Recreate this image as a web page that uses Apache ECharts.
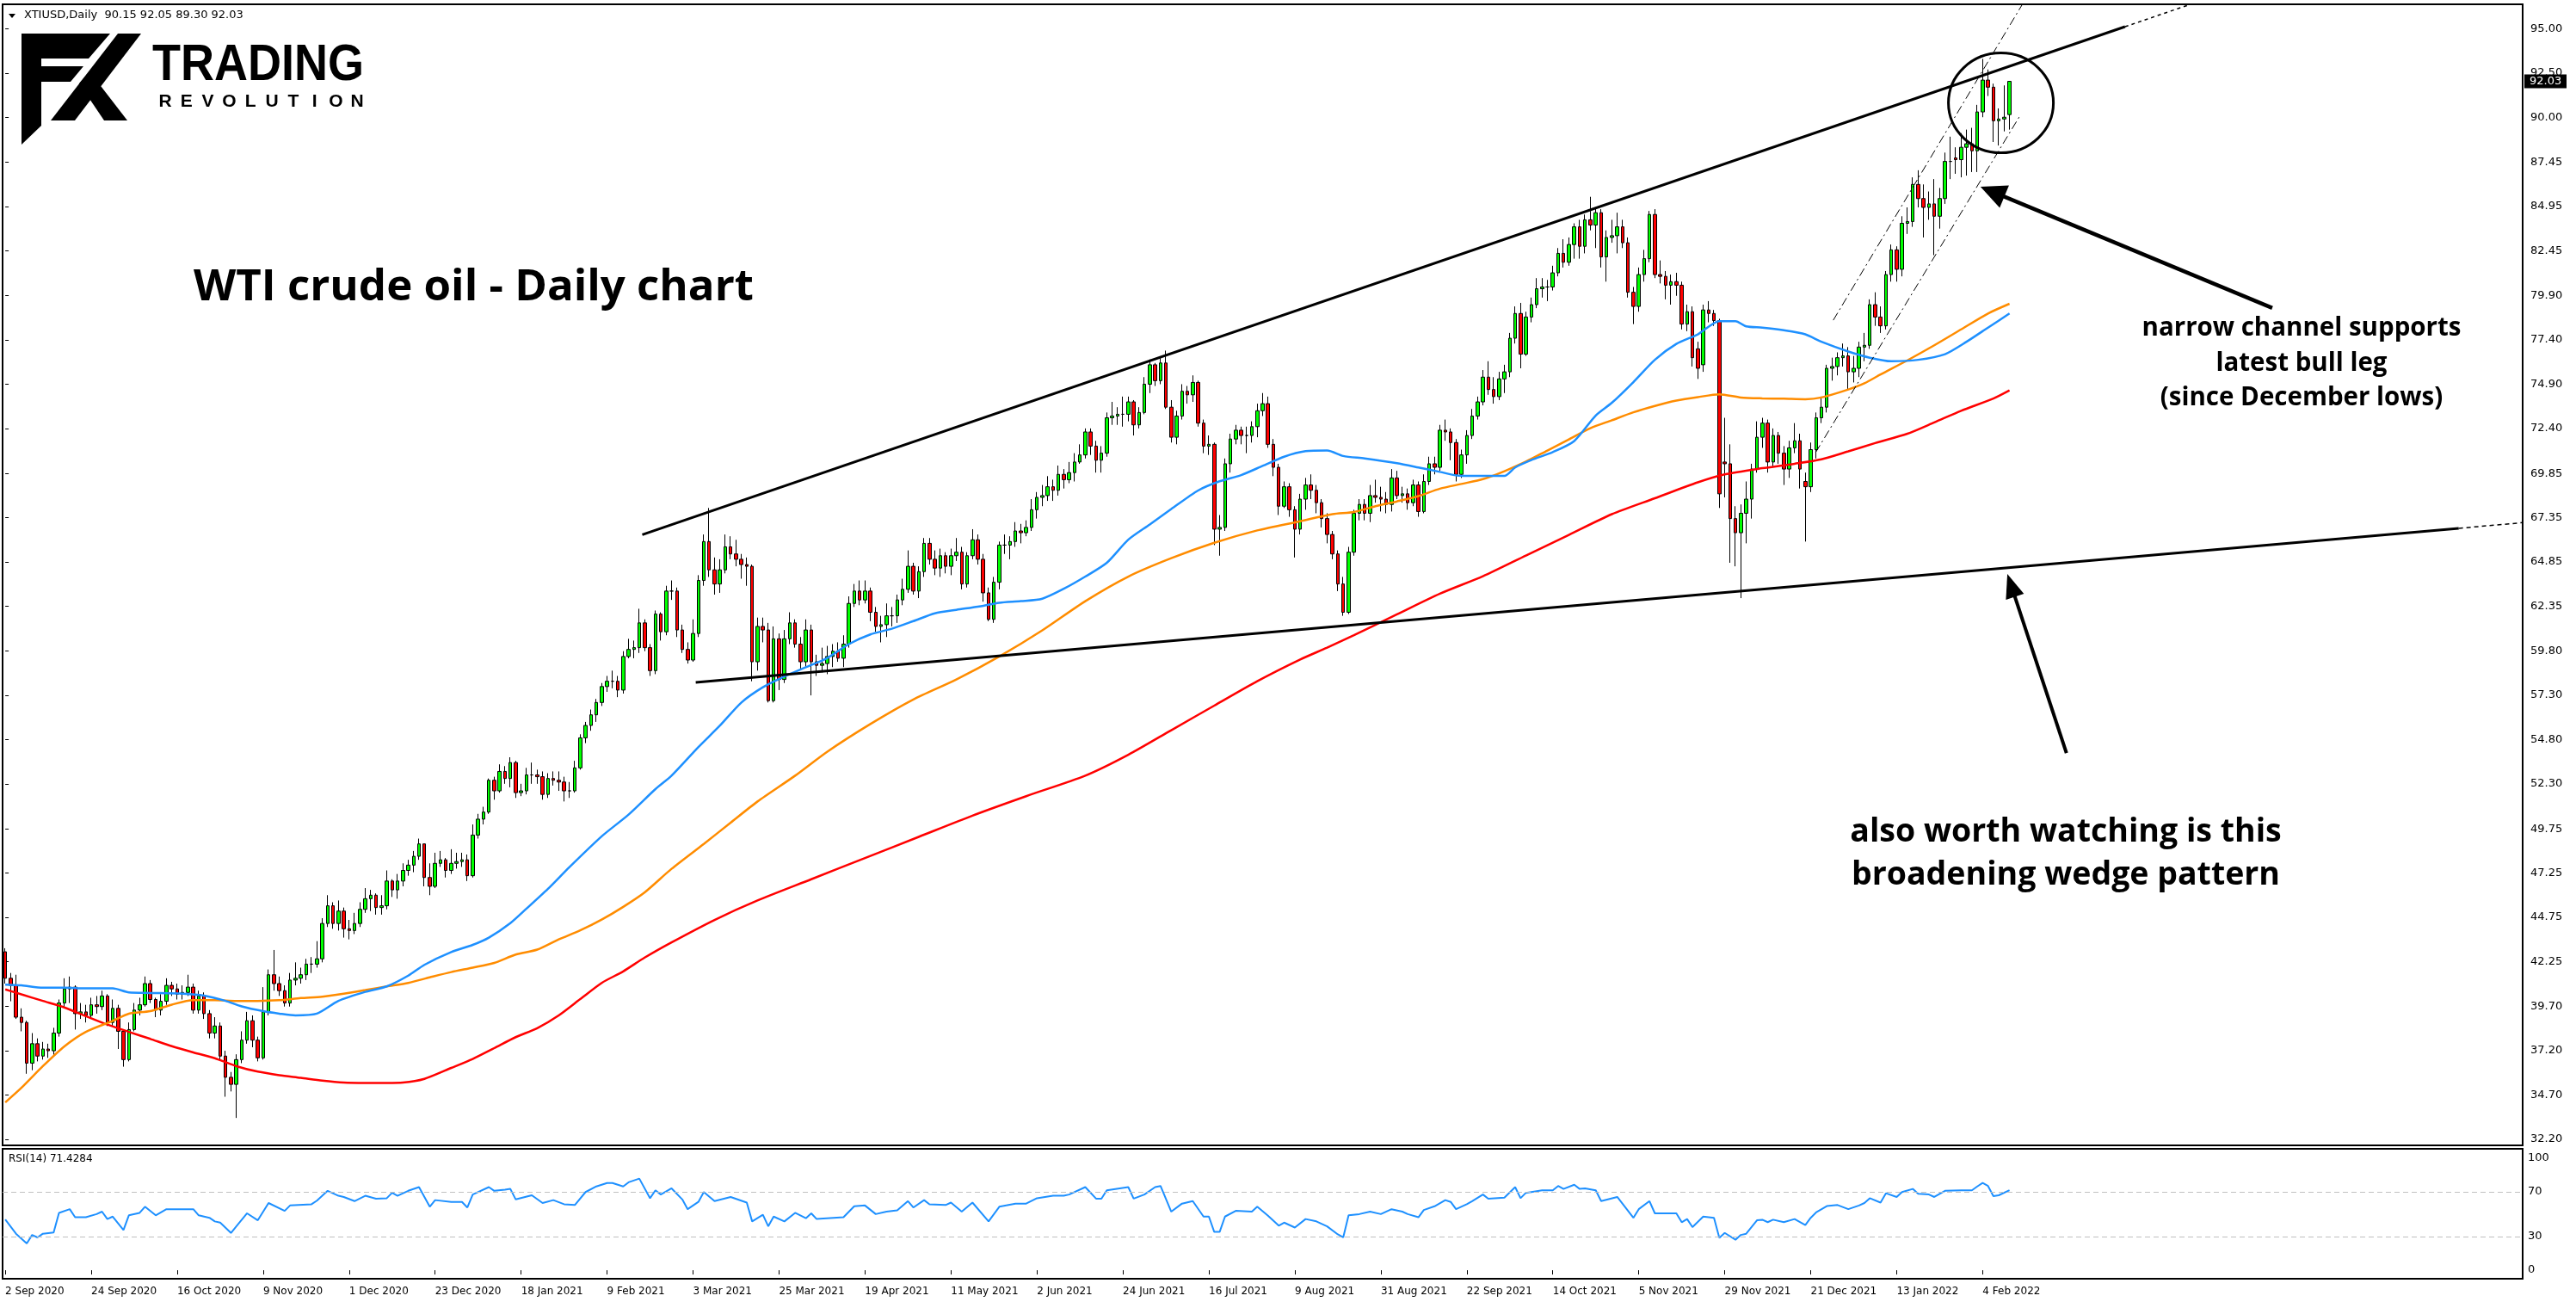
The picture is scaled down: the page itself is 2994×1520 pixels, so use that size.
<!DOCTYPE html>
<html>
<head>
<meta charset="utf-8">
<title>WTI crude oil - Daily chart</title>
<script src="https://cdn.jsdelivr.net/npm/echarts@6.0.0/dist/echarts.min.js"></script>
<style>
html,body{margin:0;padding:0;background:#fff;}
#chart{width:2994px;height:1520px;}
</style>
</head>
<body>
<div id="chart"></div>
<script>
// ---------------- DATA ----------------
const closes = [
41.3,40.9,39.1,38.8,36.5,37.6,36.9,37.3,37.2,38.2,
39.9,40.7,40.8,39.3,39.4,39.2,39.8,39.7,40.3,38.8,
39.6,38.3,36.7,38.4,39.5,39.8,41.0,40.1,39.5,40.0,
40.9,40.7,40.4,40.5,40.8,39.5,40.3,39.3,38.2,38.6,
36.9,35.7,35.3,36.7,37.8,38.9,37.8,36.8,39.4,41.5,
41.0,40.6,39.9,41.2,41.3,41.5,42.1,42.1,42.4,44.4,
45.4,44.4,45.1,44.1,44.0,44.4,45.2,45.8,46.0,45.3,
45.4,46.8,46.3,46.8,47.4,47.7,48.2,48.9,47.0,46.5,
47.8,48.0,47.4,47.8,47.9,48.0,47.1,49.4,50.3,50.7,
52.5,51.9,53.0,52.6,53.5,51.8,51.9,52.8,52.8,52.7,
51.7,52.6,52.5,52.4,51.9,51.9,53.2,54.9,55.6,56.2,
56.9,57.8,58.1,58.1,57.6,59.5,59.9,60.0,61.4,60.0,
58.7,61.9,60.9,63.2,63.2,61.0,59.9,59.3,60.8,63.8,
66.0,64.4,63.6,64.4,65.7,65.3,65.0,64.7,64.6,59.2,
61.2,61.0,57.0,60.5,58.2,60.5,61.4,60.2,59.2,61.0,
59.2,59.0,59.1,59.5,59.8,59.4,60.2,62.5,63.2,62.7,
63.2,62.0,61.2,61.3,61.8,61.8,62.7,63.3,64.6,63.2,
64.3,65.9,65.0,64.5,65.2,64.6,65.2,65.4,63.6,65.2,
66.1,65.0,63.1,61.6,63.7,65.8,65.8,66.0,66.6,66.5,
66.8,67.8,68.5,68.6,69.1,68.9,69.8,69.5,69.9,70.5,
70.9,72.2,71.4,70.6,71.0,73.0,73.1,73.2,73.2,73.9,
72.6,73.3,74.9,76.0,75.1,76.1,73.6,71.9,73.1,74.5,
74.3,75.0,72.7,71.4,71.5,66.7,66.8,70.4,71.8,72.3,
72.0,72.0,72.5,73.4,73.8,71.5,70.2,68.0,69.1,67.8,
66.7,68.4,69.2,68.9,68.2,67.3,66.4,65.3,63.6,62.0,
65.4,67.6,68.1,67.6,68.6,68.5,68.4,68.1,69.6,68.6,
68.7,68.2,69.2,67.7,69.4,70.4,70.2,72.3,72.2,71.6,
69.8,70.9,72.0,73.1,73.9,75.3,74.6,74.2,75.2,75.6,
77.5,78.9,76.6,78.7,79.4,80.3,80.4,80.4,81.2,82.3,
81.8,82.8,83.8,82.7,84.2,83.9,84.6,82.1,83.2,83.3,
83.8,82.9,80.1,79.3,81.1,82.0,84.5,81.1,81.0,80.5,
80.7,80.5,78.3,79.0,76.4,75.8,79.1,78.9,78.5,68.7,
70.4,67.3,66.5,67.6,68.4,70.1,71.9,72.7,70.5,72.0,
71.0,70.1,71.3,71.7,70.1,69.1,71.2,73.0,73.6,75.8,
75.9,76.4,76.5,75.6,75.8,77.0,77.1,79.4,78.7,78.2,
81.1,82.5,81.4,84.0,84.1,86.2,85.4,84.9,85.1,84.4,
85.4,87.5,87.5,87.6,88.3,88.5,88.1,90.3,92.1,91.7,
89.8,89.9,90.0,92.03];

const opens = [
42.8,41.3,40.9,39.1,38.8,36.5,37.6,36.9,37.3,37.2,
38.2,39.9,40.7,40.8,39.3,39.4,39.2,39.8,39.7,40.3,
38.8,39.6,38.3,36.7,38.4,39.5,39.8,41.0,40.1,39.5,
40.0,40.9,40.7,40.4,40.5,40.8,39.5,40.3,39.3,38.2,
38.6,36.9,35.7,35.3,36.7,37.8,38.9,37.8,36.8,39.4,
41.5,41.0,40.6,39.9,41.2,41.3,41.5,42.1,42.1,42.4,
44.4,45.4,44.4,45.1,44.1,44.0,44.4,45.2,45.8,46.0,
45.3,45.4,46.8,46.3,46.8,47.4,47.7,48.2,48.9,47.0,
46.5,47.8,48.0,47.4,47.8,47.9,48.0,47.1,49.4,50.3,
50.7,52.5,51.9,53.0,52.6,53.5,51.8,51.9,52.8,52.8,
52.7,51.7,52.6,52.5,52.4,51.9,51.9,53.2,54.9,55.6,
56.2,56.9,57.8,58.1,58.1,57.6,59.5,59.9,60.0,61.4,
60.0,58.7,61.9,60.9,63.2,63.2,61.0,59.9,59.3,60.8,
63.8,66.0,64.4,63.6,64.4,65.7,65.3,65.0,64.7,64.6,
59.2,61.2,61.0,57.0,60.5,58.2,60.5,61.4,60.2,59.2,
61.0,59.2,59.0,59.1,59.5,59.8,59.4,60.2,62.5,63.2,
62.7,63.2,62.0,61.2,61.3,61.8,61.8,62.7,63.3,64.6,
63.2,64.3,65.9,65.0,64.5,65.2,64.6,65.2,65.4,63.6,
65.2,66.1,65.0,63.1,61.6,63.7,65.8,65.8,66.0,66.6,
66.5,66.8,67.8,68.5,68.6,69.1,68.9,69.8,69.5,69.9,
70.5,70.9,72.2,71.4,70.6,71.0,73.0,73.1,73.2,73.2,
73.9,72.6,73.3,74.9,76.0,75.1,76.1,73.6,71.9,73.1,
74.5,74.3,75.0,72.7,71.4,71.5,66.7,66.8,70.4,71.8,
72.3,72.0,72.0,72.5,73.4,73.8,71.5,70.2,68.0,69.1,
67.8,66.7,68.4,69.2,68.9,68.2,67.3,66.4,65.3,63.6,
62.0,65.4,67.6,68.1,67.6,68.6,68.5,68.4,68.1,69.6,
68.6,68.7,68.2,69.2,67.7,69.4,70.4,70.2,72.3,72.2,
71.6,69.8,70.9,72.0,73.1,73.9,75.3,74.6,74.2,75.2,
75.6,77.5,78.9,76.6,78.7,79.4,80.3,80.4,80.4,81.2,
82.3,81.8,82.8,83.8,82.7,84.2,83.9,84.6,82.1,83.2,
83.3,83.8,82.9,80.1,79.3,81.1,82.0,84.5,81.1,81.0,
80.5,80.7,80.5,78.3,79.0,76.9,76.0,79.1,78.9,78.5,
70.5,70.4,67.3,66.5,67.6,68.4,70.1,71.9,72.7,70.5,
72.0,71.0,70.1,71.3,71.7,69.4,69.1,71.2,73.0,73.6,
75.8,75.9,76.4,76.5,75.6,75.8,77.0,77.1,79.4,78.7,
78.2,81.1,82.5,81.4,84.0,84.1,86.2,85.4,84.9,85.1,
84.4,85.4,87.5,87.7,87.6,88.3,88.5,88.1,90.3,92.1,
91.7,89.8,89.9,90.15];

const highs = [
43.0,41.6,41.5,39.6,38.9,38.2,37.9,37.7,37.6,38.5,
40.1,41.3,41.4,40.9,39.9,39.8,40.2,40.3,40.6,40.4,
40.1,39.8,38.4,38.8,39.9,40.2,41.4,41.2,40.2,40.4,
41.3,41.1,41.0,40.9,41.5,41.0,40.6,40.5,39.5,39.1,
38.8,37.2,36.0,37.0,38.3,39.4,39.2,38.0,40.8,41.8,
42.9,41.4,40.9,41.6,42.2,41.9,42.4,42.5,43.4,44.7,
46.0,45.6,45.7,45.3,44.6,45.0,45.6,46.4,46.3,46.1,
46.0,47.4,46.9,47.2,47.8,48.0,48.5,49.2,48.9,47.8,
48.4,48.5,48.1,48.6,48.4,48.4,48.3,50.0,50.6,51.0,
52.6,52.7,53.4,53.3,53.8,53.6,52.3,53.2,53.5,53.1,
53.0,52.9,53.0,53.0,52.7,52.4,53.6,55.1,55.8,56.5,
57.1,58.0,58.4,58.7,58.4,59.8,60.5,60.4,62.2,61.6,
60.2,62.1,62.0,63.5,63.8,63.4,61.3,60.3,61.6,64.1,
66.4,67.9,65.1,65.0,66.4,66.3,66.1,65.3,65.1,64.7,
61.7,61.7,61.4,61.2,60.8,61.0,62.0,61.6,60.6,61.6,
61.3,59.6,60.0,60.1,60.2,60.3,60.7,62.9,63.6,63.8,
63.8,63.4,62.3,61.8,62.5,62.3,63.0,63.9,65.5,64.8,
64.6,66.2,66.2,65.5,65.6,65.4,65.6,66.2,65.7,65.4,
66.7,66.4,65.3,63.4,64.0,66.0,66.4,66.3,67.1,67.0,
67.2,68.4,68.8,69.2,69.7,69.5,70.3,70.1,70.5,71.0,
71.5,72.4,72.4,71.7,71.4,73.3,73.9,73.6,74.2,74.2,
74.0,73.6,75.3,76.3,76.1,76.4,76.8,74.0,73.4,74.9,
74.8,75.4,75.1,72.9,72.0,71.6,67.5,70.7,72.1,72.6,
72.5,72.5,72.8,73.8,74.4,74.2,71.8,70.4,69.4,69.3,
68.0,68.7,69.6,69.8,69.2,68.4,67.6,66.6,65.5,64.0,
65.7,67.8,68.4,68.4,69.2,69.5,69.1,68.8,70.1,70.0,
69.1,69.0,69.5,69.4,69.8,70.8,70.8,72.6,72.9,72.4,
71.8,71.2,72.3,73.5,74.2,75.7,76.2,75.3,75.6,76.0,
77.8,79.3,79.5,79.0,79.8,80.9,80.9,80.8,81.6,82.6,
83.1,83.2,84.0,84.2,84.5,85.5,84.9,84.8,83.6,84.2,
84.6,84.2,83.2,80.4,81.5,82.5,84.7,84.8,81.9,81.3,
81.1,81.2,80.7,79.4,79.3,77.3,79.4,79.6,79.1,78.6,
73.0,71.5,68.0,68.1,69.4,70.4,72.8,73.0,72.9,72.4,
72.2,71.4,71.7,72.7,72.1,69.9,71.6,73.3,74.2,76.0,
76.4,76.7,77.2,77.0,76.5,77.3,77.8,79.7,80.1,79.3,
81.3,82.8,82.7,84.4,84.9,86.6,87.0,86.2,85.8,86.5,
86.0,88.0,88.9,88.3,89.1,89.3,89.4,90.7,93.3,92.7,
91.9,90.5,91.8,92.05];

const lows = [
41.0,40.0,39.0,38.3,35.9,36.1,36.6,36.7,36.8,36.9,
38.0,39.6,39.9,38.4,39.0,38.8,39.0,39.3,39.5,38.6,
38.6,37.3,36.3,36.6,38.3,39.2,39.7,39.9,39.1,39.2,
39.8,40.3,40.1,40.1,40.3,39.3,39.3,39.0,37.9,37.9,
36.7,34.6,34.9,33.4,36.5,37.6,37.4,36.6,36.7,39.2,
40.6,40.3,39.7,39.7,40.9,41.0,41.2,41.6,41.9,42.2,
44.2,44.1,44.0,43.6,43.5,43.8,44.2,45.0,45.1,44.9,
44.9,45.2,45.9,45.8,46.5,47.1,47.3,48.0,46.5,46.0,
46.4,47.6,47.0,47.2,47.5,47.6,46.8,47.0,49.2,50.0,
50.6,51.4,51.8,52.3,52.1,51.5,51.6,51.7,52.3,52.3,
51.4,51.5,52.2,51.9,51.3,51.5,51.8,53.1,54.6,55.3,
55.8,56.7,57.5,57.7,57.2,57.4,59.4,59.4,59.7,59.8,
58.4,58.5,60.4,60.7,62.7,60.6,59.7,59.1,59.2,60.6,
63.5,64.0,63.0,63.1,64.2,65.0,64.6,63.9,63.5,58.1,
58.7,60.3,56.9,56.9,57.6,58.0,60.2,60.0,58.8,58.9,
57.3,58.4,58.6,58.5,58.9,59.2,58.9,60.0,62.3,62.4,
62.5,61.5,60.9,60.3,60.6,61.2,61.4,62.4,63.1,63.0,
62.8,64.0,64.7,64.1,64.0,64.2,64.1,64.9,63.3,63.4,
65.0,64.7,62.6,61.5,61.4,63.3,65.3,65.0,65.7,65.9,
66.3,66.6,67.3,68.0,68.3,68.3,68.6,69.0,69.3,69.4,
70.4,70.7,70.9,69.9,69.9,70.8,72.6,72.6,72.5,72.8,
72.0,72.4,73.2,74.4,74.8,74.9,73.5,71.6,71.5,72.9,
73.8,73.9,72.5,71.0,70.9,65.8,65.2,66.6,69.9,71.5,
71.5,71.0,71.6,71.9,73.1,71.3,69.7,67.5,67.9,67.4,
65.1,66.4,67.8,68.4,67.6,66.8,65.9,65.0,63.2,61.8,
61.9,65.2,67.2,67.2,67.1,68.2,67.7,67.6,67.7,68.4,
68.2,67.8,68.0,67.4,67.6,69.2,69.8,70.0,71.7,70.6,
69.4,69.6,70.4,71.8,72.9,73.7,74.3,73.8,74.0,74.4,
75.3,77.2,75.8,76.5,78.4,79.2,79.8,79.6,80.2,81.0,
81.5,81.6,82.0,82.0,82.3,83.6,82.6,81.5,80.7,82.9,
82.3,82.6,79.8,78.3,79.0,80.7,81.8,80.9,80.6,79.7,
79.4,79.9,78.0,77.9,75.9,75.2,75.6,78.4,78.2,67.9,
68.5,64.8,64.6,62.8,65.9,67.3,69.9,71.3,69.9,70.2,
70.4,69.2,69.6,71.0,69.0,66.0,68.8,70.7,72.7,73.3,
75.1,75.4,75.9,74.6,75.0,75.3,76.2,76.9,78.2,77.8,
78.0,80.7,80.7,81.0,83.4,83.8,84.9,83.2,84.2,82.2,
83.7,85.1,86.5,86.8,86.6,86.7,86.9,86.9,90.0,91.2,
88.6,88.4,89.2,89.3];

// moving averages: [bar index, value]
const maBlue = [[0,40.94],[3,40.9],[7,40.77],[11,40.77],[15,40.73],[20,40.73],[23,40.5],[27,40.47],[33,40.43],[37,40.32],[41,40.02],[44,39.71],[48,39.44],[51,39.3],[54,39.2],[58,39.3],[62,40.02],[67,40.53],[71,40.84],[75,41.45],[78,42.06],[83,42.78],[87,43.19],[90,43.6],[94,44.42],[97,45.24],[101,46.36],[105,47.59],[111,49.33],[116,50.56],[121,52.0],[124,52.76],[129,54.38],[133,55.59],[137,56.9],[141,57.76],[145,58.37],[149,58.89],[153,59.42],[157,60.2],[161,60.75],[165,61.07],[169,61.5],[173,61.94],[177,62.14],[181,62.32],[185,62.54],[189,62.63],[193,62.77],[197,63.33],[201,64.02],[205,64.8],[209,66.11],[213,66.97],[217,67.84],[222,68.89],[226,69.41],[230,69.76],[234,70.28],[238,70.8],[242,71.11],[246,71.15],[249,70.84],[253,70.7],[259,70.43],[263,70.19],[267,69.94],[271,69.71],[275,69.71],[279,69.71],[281,70.19],[284,70.61],[288,71.06],[292,71.69],[296,73.13],[299,73.85],[303,75.02],[307,76.28],[311,77.18],[315,77.72],[319,78.47],[322,78.47],[324,78.17],[327,78.1],[331,77.95],[335,77.72],[338,77.3],[343,76.75],[347,76.4],[351,76.2],[356,76.28],[361,76.6],[365,77.3],[369,78.1],[373,78.9]];
const maOrange = [[0,34.28],[3,35.1],[7,36.33],[11,37.45],[15,38.27],[20,38.89],[23,39.3],[27,39.44],[31,39.81],[35,40.06],[39,40.06],[43,40.02],[47,40.02],[51,40.06],[55,40.18],[59,40.26],[63,40.43],[67,40.63],[71,40.84],[75,41.04],[79,41.35],[83,41.65],[87,41.9],[91,42.17],[95,42.64],[99,42.92],[103,43.5],[107,44.01],[111,44.62],[115,45.34],[119,46.16],[124,47.49],[130,48.9],[135,50.1],[140,51.3],[147,52.76],[153,54.12],[161,55.68],[169,57.07],[177,58.2],[185,59.5],[193,60.98],[201,62.63],[209,64.02],[217,65.06],[225,65.93],[233,66.63],[241,67.15],[247,67.55],[251,67.67],[255,68.0],[259,68.27],[263,68.57],[267,68.99],[271,69.26],[275,69.53],[279,69.98],[283,70.52],[287,71.15],[291,71.78],[295,72.41],[299,72.86],[303,73.31],[307,73.67],[311,73.97],[315,74.17],[319,74.33],[323,74.15],[327,74.1],[331,74.08],[335,74.05],[338,74.15],[343,74.6],[346,74.95],[349,75.45],[354,76.25],[359,77.1],[364,78.0],[369,78.9],[373,79.45]];
const maRed = [[0,40.67],[3,40.39],[7,40.02],[11,39.65],[15,39.16],[19,38.68],[23,38.27],[27,37.87],[31,37.46],[35,37.11],[39,36.78],[43,36.33],[47,36.02],[51,35.82],[55,35.67],[59,35.51],[63,35.4],[67,35.38],[71,35.38],[74,35.4],[78,35.61],[83,36.23],[87,36.74],[91,37.35],[95,37.97],[99,38.48],[103,39.2],[107,40.12],[111,41.04],[115,41.69],[119,42.47],[124,43.33],[132,44.6],[140,45.7],[150,46.9],[160,48.1],[170,49.3],[180,50.5],[190,51.6],[201,52.76],[209,53.94],[217,55.33],[225,56.72],[233,58.1],[241,59.33],[246,60.0],[251,60.71],[259,61.88],[267,63.05],[275,64.04],[283,65.21],[291,66.38],[299,67.55],[307,68.45],[315,69.35],[320,69.8],[327,70.15],[333,70.4],[338,70.65],[343,71.1],[348,71.57],[354,72.1],[359,72.74],[364,73.4],[370,74.09],[373,74.55]];

// RSI(14): [bar index, value]
const rsi = [[0,45.3],[2,32.6],[4,23.9],[5,31.5],[6,29.3],[7,32.6],[9,33.7],[10,51.2],[12,54.5],[13,47.3],[15,47.3],[17,50.1],[18,52.3],[19,45.7],[20,47.9],[22,35.9],[23,49],[25,51.2],[26,56.7],[28,49],[30,54.5],[32,54.5],[35,54.5],[36,49],[38,46.8],[39,43.6],[40,42.5],[42,33.3],[43,39.2],[45,50.8],[47,44.6],[49,60],[52,53],[53,57.8],[57,58.9],[58,62.1],[60,70.9],[62,66.5],[63,65.4],[65,61.7],[67,66.5],[69,63.9],[71,64.3],[72,69.1],[73,66.5],[75,70.9],[77,74.2],[79,56.7],[80,62.6],[83,61],[85,61],[86,56],[87,67.6],[90,74.2],[91,70.9],[93,72],[94,72.6],[95,63.2],[98,66.9],[100,60],[102,62.6],[104,58.9],[106,58.2],[108,69.8],[110,74.8],[112,77.9],[113,77.9],[115,74.8],[116,78.5],[118,81.8],[120,64.3],[121,71.3],[122,67.6],[124,73.1],[126,63.2],[127,54.5],[129,61],[130,69.8],[132,61.7],[135,65.4],[138,60.4],[139,43.6],[141,49.5],[142,39.2],[143,47.9],[145,43.6],[147,51.2],[149,46.4],[150,50.8],[151,45.7],[156,47.3],[158,57.1],[160,57.8],[162,50.1],[164,52.3],[166,53.4],[168,61.7],[169,56],[171,62.6],[172,58.9],[175,58.2],[176,60.4],[178,52.3],[180,60.4],[183,43.6],[185,56.7],[188,59.5],[190,59.5],[192,64.3],[195,66.5],[197,66.5],[198,67.6],[201,74.2],[203,63.9],[204,63.9],[205,71.3],[209,74.2],[210,63.9],[212,67.6],[214,74.2],[215,75.2],[217,52.3],[219,59.5],[221,61.7],[223,47.9],[224,47.9],[225,34.2],[226,34.2],[227,47.9],[229,53],[232,52.3],[233,56.7],[235,48.6],[237,39.8],[238,42.5],[240,38.1],[242,45.7],[244,43.6],[246,39.2],[248,32],[249,29.3],[250,49],[252,50.1],[254,52.3],[256,50.1],[258,54.5],[260,52.3],[261,50.1],[263,47.3],[264,53.8],[266,57.1],[268,62.6],[269,61],[270,54.5],[272,58.9],[273,61.7],[275,67.6],[276,63.9],[279,64.8],[281,74.2],[282,64.3],[283,69.1],[286,71.3],[288,71.3],[289,75.2],[290,72.6],[292,76.3],[293,72.6],[294,73.1],[296,71.3],[297,61.7],[300,65.4],[303,46.8],[304,54.5],[306,61.7],[307,50.8],[311,50.8],[312,42.9],[313,45.7],[314,38.5],[316,47.9],[318,46.8],[319,28.9],[320,33.3],[322,27.2],[323,31.5],[324,32.6],[326,44.6],[327,45.1],[328,42.9],[329,45.1],[331,42.9],[333,45.7],[335,40.3],[336,46.8],[337,51.6],[339,57.3],[341,58.2],[343,54.5],[345,57.8],[346,60],[347,64.3],[349,60.4],[350,68.7],[352,65.4],[353,69.8],[355,72.6],[356,68.3],[358,67.6],[359,65.4],[361,70.9],[364,71.3],[366,71.3],[367,74.8],[368,77.9],[369,75.2],[370,66.1],[371,66.9],[373,71.4284]];

// tick labels
const priceTicks = [95.00,92.50,90.00,87.45,84.95,82.45,79.90,77.40,74.90,72.40,69.85,67.35,64.85,62.35,59.80,57.30,54.80,52.30,49.75,47.25,44.75,42.25,39.70,37.20,34.70,32.20];
const rsiTicks = [0,30,70,100];
const rsiLevels = [30,70];
const monthNames = ['Jan','Feb','Mar','Apr','May','Jun','Jul','Aug','Sep','Oct','Nov','Dec'];
const holidays = ['2020-12-25','2021-01-01','2021-04-02','2021-12-24'];
const firstDay = '2020-09-02';

// drawn trendlines, anchored in [bar index, price]
const upperWedge = [[118.55,66.39],[394.5,95.12]];
const upperWedgeExt = [[394.5,95.12],[412,96.94]];
const lowerWedge = [[128.5,58.03],[456.6,66.75]];
const lowerWedgeExt = [[456.6,66.75],[468.5,67.07]];
const channelUpper = [[340.2,78.52],[375.4,96.39]];
const channelLower = [[336.9,71.03],[374.8,90.01]];
const circleCenter = [371.4,90.81];
const arrowChannel = {from:[421.9,79.21], to:[367.6,86.07]};
const arrowWedge = {from:[383.6,54.04], to:[372.6,64.17]};

// ---------------- BUILD ----------------
const NSLOT = 469;
const GL = 3, GW = 2929;
const cats = [];
(function(){
  let t = Date.parse(firstDay + 'T00:00:00Z');
  while (cats.length < closes.length) {
    const d = new Date(t);
    const wd = d.getUTCDay();
    const iso = d.toISOString().slice(0,10);
    if (wd > 0 && wd < 6 && holidays.indexOf(iso) < 0) {
      cats.push(d.getUTCDate() + ' ' + monthNames[d.getUTCMonth()] + ' ' + d.getUTCFullYear());
    }
    t += 86400000;
  }
  for (let i = cats.length; i < NSLOT; i++) cats.push('_' + i);
})();
const candleData = closes.map((c,i) => [opens[i], c, lows[i], highs[i]]);
const showLbl = (i) => i % 16 === 0 && i < closes.length;

const chart = echarts.init(document.getElementById('chart'), null, {renderer:'canvas', width:2994, height:1520});

const maSeries = (data, color) => ({type:'line', xAxisIndex:2, yAxisIndex:0, data:data, symbol:'none', showSymbol:false, smooth:0.25, silent:true, z:3, lineStyle:{color:color, width:2.5}});
const tlSeries = (data, width, type) => ({type:'line', xAxisIndex:2, yAxisIndex:0, data:data, symbol:'none', showSymbol:false, silent:true, z:4, lineStyle:{color:'#000', width:width, type:type}});

chart.setOption({
  animation:false,
  backgroundColor:'#ffffff',
  grid:[
    {left:GL, top:5, width:GW, height:1326, show:true, borderColor:'#000', borderWidth:2},
    {left:GL, top:1335, width:GW, height:151, show:true, borderColor:'#000', borderWidth:2}
  ],
  xAxis:[
    {type:'category', gridIndex:0, data:cats, boundaryGap:true, axisLine:{show:false}, axisTick:{show:false}, axisLabel:{show:false}, splitLine:{show:false}},
    {type:'category', gridIndex:1, data:cats, boundaryGap:true, axisLine:{show:false},
      axisTick:{show:true, interval:showLbl, alignWithLabel:true, length:5, lineStyle:{color:'#000', width:1}},
      axisLabel:{show:true, interval:showLbl, align:'left', color:'#000', fontSize:12, fontFamily:'DejaVu Sans', margin:9},
      splitLine:{show:false}},
    {type:'value', gridIndex:0, min:-0.5, max:NSLOT-0.5, show:false},
    {type:'value', gridIndex:1, min:-0.5, max:NSLOT-0.5, show:false}
  ],
  yAxis:[
    {type:'value', gridIndex:0, position:'right', min:31.85, max:96.387,
      axisLine:{show:false}, splitLine:{show:false},
      axisTick:{show:true, customValues:priceTicks, length:4, lineStyle:{color:'#000', width:1}},
      axisLabel:{show:true, customValues:priceTicks, formatter:(v)=>Number(v).toFixed(2), color:'#000', fontSize:13, fontFamily:'DejaVu Sans', margin:9}},
    {type:'value', gridIndex:1, position:'right', min:-7.6, max:108.4,
      axisLine:{show:false}, splitLine:{show:false},
      axisTick:{show:false, customValues:rsiTicks},
      axisLabel:{show:true, customValues:rsiTicks, formatter:(v)=>String(v), color:'#000', fontSize:13, fontFamily:'DejaVu Sans', margin:6}}
  ],
  series:[
    {type:'candlestick', xAxisIndex:0, yAxisIndex:0, data:candleData, barWidth:4, silent:true, z:2,
      itemStyle:{color:'#00ff00', color0:'#ff0000', borderColor:'#000', borderColor0:'#000', borderColorDoji:'#000', borderWidth:1}},
    maSeries(maRed, '#ff0000'),
    maSeries(maOrange, '#ff8c00'),
    maSeries(maBlue, '#1e90ff'),
    tlSeries(upperWedge, 3, 'solid'),
    tlSeries(upperWedgeExt, 1.5, [4,4]),
    tlSeries(lowerWedge, 3, 'solid'),
    tlSeries(lowerWedgeExt, 1.5, [5,4]),
    tlSeries(channelUpper, 1, [10,4,2,4]),
    tlSeries(channelLower, 1, [10,4,2,4]),
    {type:'line', xAxisIndex:3, yAxisIndex:1, data:rsi, symbol:'none', showSymbol:false, silent:true, z:3,
      lineStyle:{color:'#1e90ff', width:2},
      markLine:{silent:true, symbol:['none','none'], label:{show:false}, lineStyle:{color:'#c0c0c0', type:[6,4], width:1},
        data: rsiLevels.map(v => ({yAxis:v}))}}
  ]
});

// ---------------- ANNOTATIONS ----------------
const px = (p) => chart.convertToPixel({xAxisIndex:2, yAxisIndex:0}, p);
function arrowEls(a, w, hl, hw) {
  const s = px(a.from), t = px(a.to);
  const dx = t[0]-s[0], dy = t[1]-s[1];
  const L = Math.hypot(dx, dy);
  const ux = dx/L, uy = dy/L, nx = -uy, ny = ux;
  const bx = t[0]-ux*hl, by = t[1]-uy*hl;
  return [
    {type:'line', z:100, silent:true, shape:{x1:s[0], y1:s[1], x2:bx+ux*3, y2:by+uy*3}, style:{stroke:'#000', lineWidth:w}},
    {type:'polygon', z:100, silent:true, shape:{points:[[t[0],t[1]],[bx+nx*hw,by+ny*hw],[bx-nx*hw,by-ny*hw]]}, style:{fill:'#000'}}
  ];
}
const txt = (text, x, y, font, align, extra) => Object.assign({type:'text', z:100, silent:true,
  style:{text:text, x:x, y:y, font:font, fill:'#000', textAlign:align||'left', align:align||'left', textVerticalAlign:'middle', verticalAlign:'middle'}}, extra||{});

const last = closes.length - 1;
const lastPx = px([last, closes[last]]);
const els = [];
// header
els.push({type:'polygon', z:100, silent:true, shape:{points:[[10,16],[18,16],[14,21]]}, style:{fill:'#000'}});
els.push(txt('XTIUSD,Daily  ' + [opens[last], highs[last], lows[last], closes[last]].map(v=>v.toFixed(2)).join(' '), 28, 18, '13px "DejaVu Sans"'));
// logo
els.push({type:'polygon', z:100, silent:true, shape:{points:[[25,39],[128,39],[103,68],[48,68],[48,77],[97,77],[82,95],[48,95],[48,146],[25,168]]}, style:{fill:'#000'}});
els.push({type:'polygon', z:100, silent:true, shape:{points:[[137,39],[164,39],[87,140],[59,140]]}, style:{fill:'#000'}});
els.push({type:'polygon', z:100, silent:true, shape:{points:[[92,97],[104,83],[148,140],[121,140]]}, style:{fill:'#000'}});
els.push({type:'text', z:100, silent:true, x:177, y:76, scaleX:0.9, style:{text:'TRADING', x:0, y:0, font:'bold 60px "Liberation Sans"', fill:'#000', textVerticalAlign:'middle', verticalAlign:'middle'}});
'REVOLUTION'.split('').forEach((ch, k) => els.push(txt(ch, 192 + 24.8*k, 118, 'bold 21px "Liberation Sans"', 'center')));
// title and notes
els.push(txt('WTI crude oil - Daily chart', 225, 334, 'bold 51px "Open Sans"', 'left'));
els.push(txt('narrow channel supports', 2675, 382, 'bold 29.5px "Open Sans"', 'center'));
els.push(txt('latest bull leg', 2675, 423, 'bold 29.5px "Open Sans"', 'center'));
els.push(txt('(since December lows)', 2675, 463, 'bold 29.5px "Open Sans"', 'center'));
els.push(txt('also worth watching is this', 2401, 967, 'bold 37.5px "Open Sans"', 'center'));
els.push(txt('broadening wedge pattern', 2401, 1017, 'bold 37.5px "Open Sans"', 'center'));
// circle + arrows
const cc = px(circleCenter);
els.push({type:'ellipse', z:100, silent:true, shape:{cx:cc[0], cy:cc[1], rx:61, ry:58}, style:{fill:'none', stroke:'#000', lineWidth:3}});
arrowEls(arrowChannel, 4.5, 30, 14).forEach(e => els.push(e));
arrowEls(arrowWedge, 4, 28, 11).forEach(e => els.push(e));
// RSI caption
els.push(txt('RSI(14) ' + rsi[rsi.length-1][1].toFixed(4), 10, 1347, '12px "DejaVu Sans"'));
// last price tag on the price scale
els.push({type:'rect', z:100, silent:true, shape:{x:GL+GW+2, y:lastPx[1]-8, width:49, height:16}, style:{fill:'#000'}});
els.push(txt(closes[last].toFixed(2), GL+GW+8, lastPx[1], '13px "DejaVu Sans"', 'left', {z:101}));
els[els.length-1].style.fill = '#fff';

chart.setOption({graphic:els});
</script>
</body>
</html>
